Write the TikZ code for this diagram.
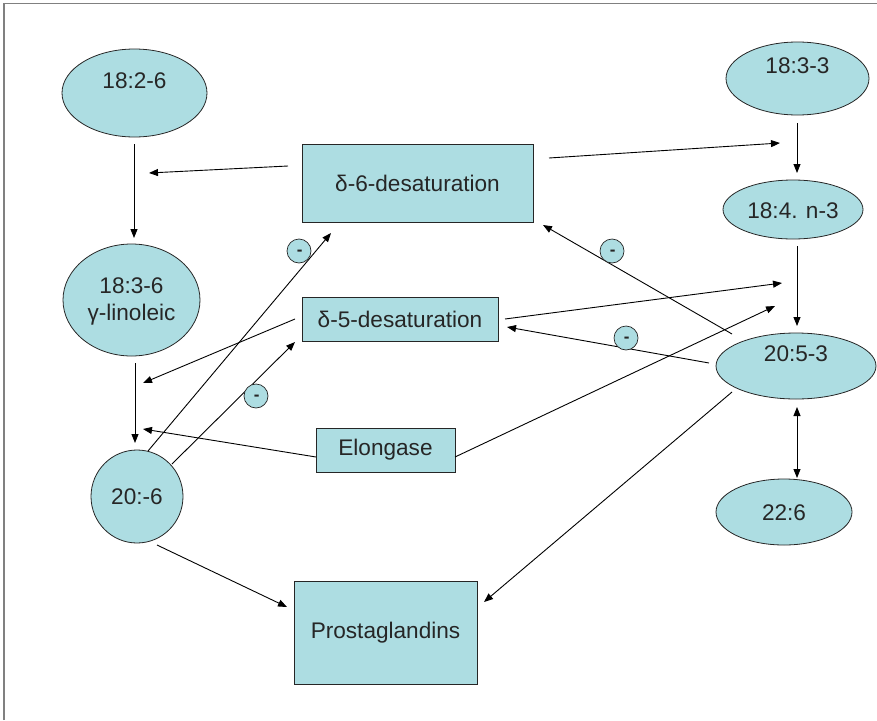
\documentclass[tikz,border=0pt]{standalone}
\usepackage{fontspec}
\setmainfont{Liberation Sans}
\usetikzlibrary{shapes.geometric,arrows.meta}
\definecolor{cellblue}{RGB}{173,221,226}
\definecolor{inkgray}{RGB}{38,38,38}
\definecolor{framegray}{RGB}{128,128,128}
\tikzset{
  lipid/.style={ellipse, draw=black!85, line width=0.8pt, fill=cellblue, inner sep=0pt},
  enzyme/.style={rectangle, draw=black!85, line width=0.8pt, fill=cellblue, inner sep=0pt,
    text=inkgray, font=\fontsize{22.6}{27}\selectfont},
  lbl/.style={text=inkgray, font=\fontsize{22.6}{27}\selectfont, align=center},
  inhib/.style={circle, draw=black!85, line width=0.7pt, fill=cellblue, minimum size=24pt,
    inner sep=0pt,
    label={[inner sep=0pt, text=inkgray, font=\fontsize{17}{17}\selectfont\bfseries,
      yshift=-2.2pt, xshift=0.6pt]center:-}},
  arr/.style={line width=0.9pt, -{Triangle[length=9pt,width=7pt]}},
  dbl/.style={line width=0.9pt, {Triangle[length=9pt,width=7pt]}-{Triangle[length=9pt,width=7pt]}}
}
\begin{document}
\begin{tikzpicture}[x=1pt,y=-1pt]
\useasboundingbox (0,0) rectangle (877,720);
% page frame
\draw[framegray, line width=1.6pt] (4,720) -- (4,3.5) -- (877,3.5);

% fatty acids (omega-6 column)
\node[lipid, minimum width=145pt, minimum height=88pt] (la) at (134.5,93) {};
\node[lbl] (laT) at (134.5,81) {18:2-6};
\node[lipid, minimum width=137pt, minimum height=112pt] (gla) at (131.5,300) {};
\node[lbl] (glaT) at (131.5,301) {18:3-6\\γ-linoleic};
\node[lipid, minimum width=92pt, minimum height=93pt] (dgla) at (137,496.5) {};
\node[lbl] (dglaT) at (137,497) {20:-6};

% fatty acids (omega-3 column)
\node[lipid, minimum width=143pt, minimum height=73pt] (ala) at (797.5,78.5) {};
\node[lbl] (alaT) at (797.5,66) {18:3-3};
\node[lipid, minimum width=140pt, minimum height=59pt] (sda) at (793,209.5) {};
\node[lbl] (sdaT) at (793,211) {18:4. n-3};
\node[lipid, minimum width=160pt, minimum height=66pt] (epa) at (796,366) {};
\node[lbl] (epaT) at (796,354) {20:5-3};
\node[lipid, minimum width=136pt, minimum height=66pt] (dha) at (784,512) {};
\node[lbl] (dhaT) at (784,513) {22:6};

% enzymes and products
\node[enzyme, minimum width=231pt, minimum height=78pt] (d6) at (417.5,183) {δ-6-desaturation};
\node[enzyme, minimum width=196pt, minimum height=44pt] (d5) at (400,319) {δ-5-desaturation};
\node[enzyme, minimum width=139pt, minimum height=44pt] (elo) at (385.5,450) {Elongase};
\node[enzyme, minimum width=183pt, minimum height=103pt] (pg) at (385.5,632.5) {Prostaglandins};

% connector end points
\coordinate (laOut) at (134,144);   \coordinate (glaIn) at (134,238);
\coordinate (glaOut) at (135,363);  \coordinate (dglaIn) at (135,443);
\coordinate (d6L) at (288,166);     \coordinate (w6a) at (149,173);
\coordinate (d6R) at (549,158);     \coordinate (w3a) at (780,143);
\coordinate (alaOut) at (797,123);  \coordinate (sdaIn) at (797,173);
\coordinate (sdaOut) at (797,246);  \coordinate (epaIn) at (797,326);
\coordinate (epaDn) at (797,407);   \coordinate (dhaUp) at (797,478);
\coordinate (d5L) at (295,319);     \coordinate (w6b) at (143,383);
\coordinate (eloL) at (316,457);    \coordinate (w6c) at (143,429);
\coordinate (dglaA) at (148,451);   \coordinate (d6in) at (331,233);
\coordinate (dglaB) at (172,464);   \coordinate (d5in) at (295,342);
\coordinate (d5R) at (505,319);     \coordinate (w3b) at (782,283);
\coordinate (eloR) at (455,457);    \coordinate (w3c) at (775,306);
\coordinate (epaA) at (732,334);    \coordinate (d6in2) at (543,225);
\coordinate (epaB) at (709,363);    \coordinate (d5in2) at (507,327);
\coordinate (epaC) at (732,392);    \coordinate (pgR) at (484,602);
\coordinate (dglaC) at (157,545);   \coordinate (pgL) at (287,607);

% omega-6 pathway
\draw[arr] (laOut) -- (glaIn);
\draw[arr] (glaOut) -- (dglaIn);
\draw[arr] (d6L) -- (w6a);
\draw[arr] (d5L) -- (w6b);
\draw[arr] (eloL) -- (w6c);
\draw[arr] (dglaA) -- (d6in);
\draw[arr] (dglaB) -- (d5in);
\draw[arr] (dglaC) -- (pgL);

% omega-3 pathway
\draw[arr] (d6R) -- (w3a);
\draw[arr] (alaOut) -- (sdaIn);
\draw[arr] (sdaOut) -- (epaIn);
\draw[dbl] (epaDn) -- (dhaUp);
\draw[arr] (d5R) -- (w3b);
\draw[arr] (eloR) -- (w3c);
\draw[arr] (epaA) -- (d6in2);
\draw[arr] (epaB) -- (d5in2);
\draw[arr] (epaC) -- (pgR);

% feedback inhibition marks
\node[inhib] (i1) at (299,251) {};
\node[inhib] (i2) at (256,396) {};
\node[inhib] (i3) at (612,251) {};
\node[inhib] (i4) at (626,338) {};
\end{tikzpicture}
\end{document}
